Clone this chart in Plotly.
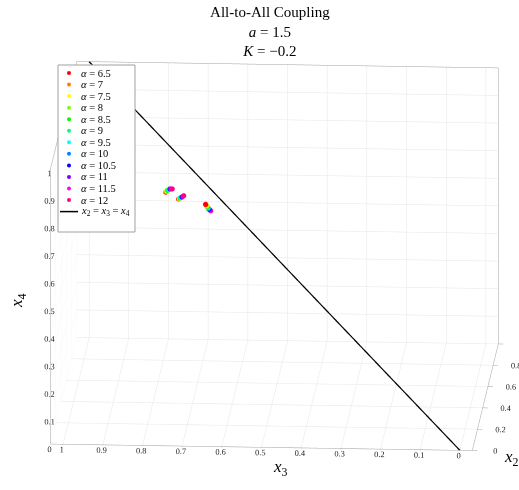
import plotly.graph_objects as go

# Coupling strengths and the marker colour used for each
alphas = [6.5, 7, 7.5, 8, 8.5, 9, 9.5, 10, 10.5, 11, 11.5, 12]
colors = ["#ff0000", "#ff8000", "#ffff00", "#80ff00", "#00ff00", "#00ff80",
          "#00ffff", "#0080ff", "#0000ff", "#8000ff", "#ff00ff", "#ff0080"]

# Three equilibrium points per alpha (one entry per alpha, three points each)
x2_pts = [
    [0.70, 0.70, 0.70], [0.70, 0.70, 0.70], [0.70, 0.70, 0.70], [0.70, 0.70, 0.70],
    [0.70, 0.70, 0.70], [0.70, 0.70, 0.70], [0.70, 0.70, 0.70], [0.70, 0.70, 0.70],
    [0.70, 0.70, 0.70], [0.70, 0.70, 0.70], [0.70, 0.70, 0.70], [0.70, 0.70, 0.70],
]
x3_pts = [
    [0.787, 0.755, 0.687], [0.786, 0.754, 0.686], [0.785, 0.753, 0.685],
    [0.784, 0.752, 0.684], [0.782, 0.751, 0.683], [0.780, 0.750, 0.682],
    [0.779, 0.749, 0.681], [0.777, 0.747, 0.680], [0.776, 0.746, 0.679],
    [0.775, 0.745, 0.677], [0.773, 0.743, 0.676], [0.771, 0.742, 0.674],
]
x4_pts = [
    [0.648, 0.624, 0.606], [0.650, 0.625, 0.604], [0.652, 0.626, 0.602],
    [0.654, 0.627, 0.600], [0.655, 0.628, 0.598], [0.657, 0.629, 0.596],
    [0.658, 0.630, 0.594], [0.659, 0.631, 0.592], [0.660, 0.632, 0.590],
    [0.660, 0.633, 0.588], [0.660, 0.635, 0.585], [0.660, 0.636, 0.583],
]

# Synchronisation manifold x2 = x3 = x4
diag = [0, 1]

tick_vals = [0, 0.1, 0.2, 0.3, 0.4, 0.5, 0.6, 0.7, 0.8, 0.9, 1]
tick_vals_y = [0, 0.2, 0.4, 0.6, 0.8, 1]

serif = "Liberation Serif"
W, H = 519, 490


def px(x, y):
    """Pixel position -> paper coordinates."""
    return x / W, 1 - y / H


fig = go.Figure()
for a, c, xs2, xs3, xs4 in zip(alphas, colors, x2_pts, x3_pts, x4_pts):
    fig.add_trace(go.Scatter3d(
        x=xs3, y=xs2, z=xs4, mode="markers",
        marker=dict(size=3, color=c, line=dict(width=0)),
        name=f"α = {a:g}", showlegend=False,
    ))
fig.add_trace(go.Scatter3d(
    x=diag, y=diag, z=diag, mode="lines",
    line=dict(color="black", width=2.5),
    name="x2 = x3 = x4", showlegend=False,
))

# Compact legend box drawn on the top layer
shapes = []
annotations = []
bx0, by0 = px(58, 65)
bx1, by1 = px(135, 232)
shapes.append(dict(type="rect", xref="paper", yref="paper", layer="above",
                   x0=bx0, y0=by1, x1=bx1, y1=by0,
                   fillcolor="white", line=dict(color="#a0a0a0", width=1)))
row0, row_step = 73, 11.55
for i, (a, c) in enumerate(zip(alphas, colors)):
    yc = row0 + i * row_step
    cx0, cy0 = px(67, yc - 2)
    cx1, cy1 = px(71, yc + 2)
    shapes.append(dict(type="circle", xref="paper", yref="paper", layer="above",
                       x0=cx0, y0=cy1, x1=cx1, y1=cy0,
                       fillcolor=c, line=dict(width=0)))
    tx, ty = px(79, yc)
    annotations.append(dict(xref="paper", yref="paper", x=tx, y=ty,
                            xanchor="left", yanchor="middle", showarrow=False,
                            text=f"<i>α</i> = {a:g}",
                            font=dict(family=serif, size=10.5, color="black")))
yl = row0 + len(alphas) * row_step
lx0, ly = px(60, yl)
lx1, _ = px(78, yl)
shapes.append(dict(type="line", xref="paper", yref="paper", layer="above",
                   x0=lx0, y0=ly, x1=lx1, y1=ly, line=dict(color="black", width=1.5)))
tx, ty = px(79, yl)
annotations.append(dict(xref="paper", yref="paper", x=tx, y=ty,
                        xanchor="left", yanchor="middle", showarrow=False,
                        text="<i>x</i><sub>2</sub> = <i>x</i><sub>3</sub> = <i>x</i><sub>4</sub>",
                        font=dict(family=serif, size=10.5, color="black")))

# Axis titles
for text, (x, y), ang in [
    ("<i>x</i><sub>3</sub>", (280, 468), 0),
    ("<i>x</i><sub>2</sub>", (511, 458), 0),
    ("<i>x</i><sub>4</sub>", (18, 300), -90),
]:
    ax, ay = px(x, y)
    annotations.append(dict(xref="paper", yref="paper", x=ax, y=ay,
                            xanchor="center", yanchor="middle", showarrow=False,
                            text=text, textangle=ang,
                            font=dict(family=serif, size=17, color="black")))

axis_common = dict(
    range=[0, 1], showbackground=False, gridcolor="#e6e6e6", gridwidth=1,
    showline=True, mirror=True, linecolor="#a0a0a0", linewidth=1, zeroline=False,
    ticks="outside", tickcolor="#a0a0a0", ticklen=5, tickangle=0,
    tickfont=dict(family=serif, size=10, color="#262626"),
    showspikes=False, title=dict(text=""),
)

S = 1.805
fig.update_layout(
    width=W, height=H,
    margin=dict(l=0, r=0, t=0, b=0),
    paper_bgcolor="white",
    showlegend=False,
    title=dict(
        text="All-to-All Coupling<br><i>a</i> = 1.5<br><i>K</i> = −0.2",
        x=0.52, xanchor="center", y=0.965, yanchor="top",
        font=dict(family=serif, size=15, color="black"),
    ),
    shapes=shapes,
    annotations=annotations,
    scene=dict(
        domain=dict(x=[0.058, 1.0], y=[0.0, 0.955]),
        xaxis=dict(axis_common, autorange="reversed", tickvals=tick_vals),
        yaxis=dict(axis_common, tickvals=tick_vals_y, ticklen=3),
        zaxis=dict(axis_common, tickvals=tick_vals),
        aspectmode="manual",
        aspectratio=dict(x=1.0 * S, y=1.01 * S, z=0.675 * S),
        camera=dict(
            projection=dict(type="orthographic"),
            eye=dict(x=0.0591 * 2, y=-0.9662 * 2, z=0.2504 * 2),
            up=dict(x=0, y=0, z=1),
            center=dict(x=0, y=0, z=0),
        ),
    ),
)

fig.write_html("out.html")
